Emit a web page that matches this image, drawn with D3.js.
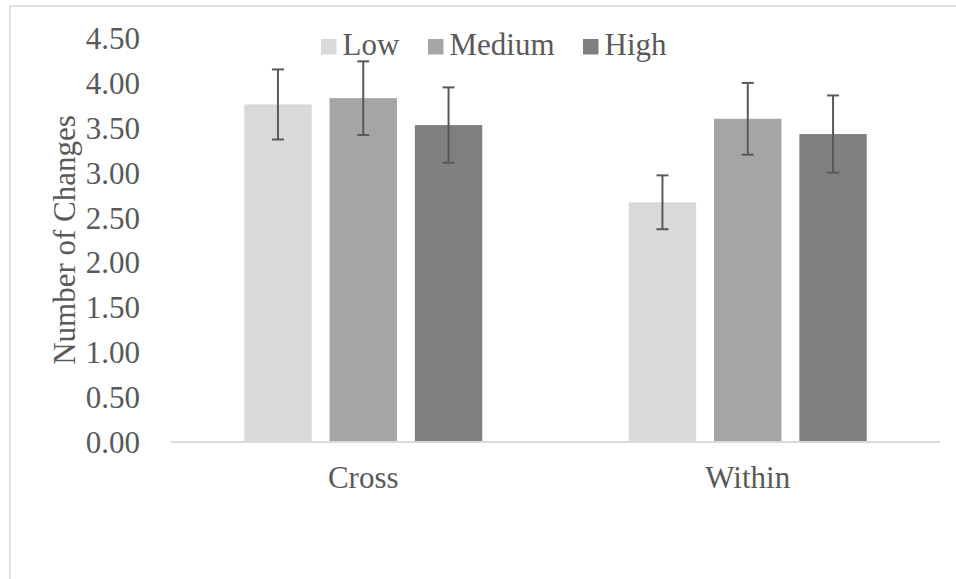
<!DOCTYPE html>
<html>
<head>
<meta charset="utf-8">
<script src="https://cdn.jsdelivr.net/npm/d3@7"></script>
<style>
  html, body { margin: 0; padding: 0; background: #fff; }
</style>
</head>
<body>
<svg id="chart" width="956" height="579"></svg>
<script>
const categories = ["Cross", "Within"];
const seriesNames = ["Low", "Medium", "High"];
const seriesColors = ["#d9d9d9", "#a5a5a5", "#7f7f7f"];
const lowValues = [3.76, 2.67];
const mediumValues = [3.83, 3.60];
const highValues = [3.53, 3.43];
const lowErrors = [0.39, 0.30];
const mediumErrors = [0.41, 0.40];
const highErrors = [0.42, 0.43];
const yTicks = [0, 0.5, 1, 1.5, 2, 2.5, 3, 3.5, 4, 4.5];

const FONT = "Liberation Serif";
const valuesBySeries = [lowValues, mediumValues, highValues];
const errorsBySeries = [lowErrors, mediumErrors, highErrors];

const svg = d3.select("#chart");

function styleText(sel) {
  return sel.style("font-family", FONT).style("font-size", "31px").style("fill", "#595959");
}

// outer border
svg.append("rect").attr("x", 10).attr("y", 6).attr("width", 960).attr("height", 600)
  .attr("fill", "none").attr("stroke", "#d9d9d9").attr("stroke-width", 1.5);

const plotLeft = 171, plotRight = 940, plotTop = 38, plotBottom = 442;

const y = d3.scaleLinear().domain([0, 4.5]).range([plotBottom, plotTop]);
const x0 = d3.scaleBand().domain(categories).range([plotLeft, plotRight])
  .paddingInner(0.381).paddingOuter(0.1905);
const x1 = d3.scaleBand().domain(seriesNames).range([0, x0.bandwidth()])
  .paddingInner(0.21).paddingOuter(0);

const data = [];
categories.forEach((c, ci) => {
  seriesNames.forEach((s, si) => {
    data.push({cat: c, series: s, value: valuesBySeries[si][ci], err: errorsBySeries[si][ci], color: seriesColors[si]});
  });
});

// y-axis labels (no axis line)
const yAxis = d3.axisLeft(y).tickValues(yTicks).tickFormat(d3.format(".2f")).tickSize(0).tickPadding(0);
const gy = svg.append("g").attr("transform", `translate(140,0)`).call(yAxis);
gy.select(".domain").remove();
styleText(gy.selectAll("text")).attr("dy", "0.34em");

// bars
svg.append("g").selectAll("rect").data(data).join("rect")
  .attr("x", d => x0(d.cat) + x1(d.series))
  .attr("y", d => y(d.value))
  .attr("width", x1.bandwidth())
  .attr("height", d => y(0) - y(d.value))
  .attr("fill", d => d.color);

// x axis line
const xAxis = d3.axisBottom(x0).tickSize(0).tickPadding(0);
const gx = svg.append("g").attr("transform", `translate(0,${plotBottom})`).call(xAxis);
gx.select(".domain").attr("stroke", "#d9d9d9").attr("stroke-width", 2)
  .attr("d", `M${plotLeft},0H${plotRight}`);
styleText(gx.selectAll("text")).attr("dy", null).attr("y", 46);

// error bars
const eg = svg.append("g").attr("stroke", "#595959").attr("stroke-width", 2);
data.forEach(d => {
  const cx = x0(d.cat) + x1(d.series) + x1.bandwidth() / 2;
  const yt = y(d.value + d.err), yb = y(d.value - d.err);
  eg.append("line").attr("x1", cx).attr("x2", cx).attr("y1", yt).attr("y2", yb);
  eg.append("line").attr("x1", cx - 6).attr("x2", cx + 6).attr("y1", yt).attr("y2", yt);
  eg.append("line").attr("x1", cx - 6).attr("x2", cx + 6).attr("y1", yb).attr("y2", yb);
});

// y-axis title
styleText(svg.append("text"))
  .attr("transform", `translate(75,${(plotTop + plotBottom) / 2}) rotate(-90)`)
  .attr("text-anchor", "middle")
  .text("Number of Changes");

// legend
const legendX = [321, 428, 583];
const lg = svg.append("g");
seriesNames.forEach((s, i) => {
  lg.append("rect").attr("x", legendX[i]).attr("y", 39).attr("width", 15.5).attr("height", 15.5)
    .attr("fill", seriesColors[i]);
  styleText(lg.append("text")).attr("x", legendX[i] + 21.5).attr("y", 55).text(s);
});
</script>
</body>
</html>
